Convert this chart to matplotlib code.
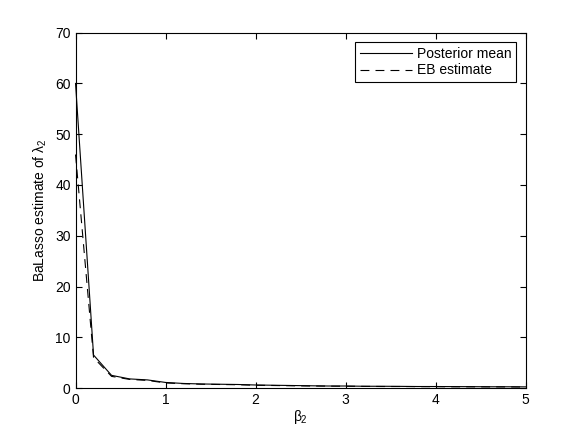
import matplotlib
matplotlib.use("Agg")
import matplotlib.pyplot as plt

plt.rcParams["font.family"] = ["Liberation Sans", "DejaVu Sans"]
plt.rcParams["mathtext.fontset"] = "custom"
plt.rcParams["mathtext.rm"] = "Liberation Sans"
plt.rcParams["mathtext.it"] = "Liberation Sans"

beta2 = [0.0, 0.2, 0.4, 0.6, 0.8, 1.0, 1.2, 1.4, 1.6, 1.8, 2.0, 2.2, 2.4,
         2.6, 2.8, 3.0, 3.2, 3.4, 3.6, 3.8, 4.0, 4.2, 4.4, 4.6, 4.8, 5.0]
posterior_mean = [60.0, 6.5, 2.5, 1.8, 1.6, 1.1, 0.9, 0.8, 0.75, 0.7, 0.6,
                  0.55, 0.5, 0.45, 0.4, 0.4, 0.35, 0.35, 0.33, 0.3, 0.3,
                  0.28, 0.27, 0.25, 0.25, 0.23]
eb_estimate = [46.0, 6.0, 2.3, 1.7, 1.5, 1.0, 0.85, 0.75, 0.7, 0.65, 0.55,
               0.5, 0.45, 0.4, 0.38, 0.35, 0.33, 0.3, 0.3, 0.28, 0.27,
               0.25, 0.24, 0.23, 0.22, 0.2]

fig = plt.figure(figsize=(5.81, 4.36), dpi=100)
ax = fig.add_axes([0.13, 0.11, 0.775, 0.815])

ax.plot(beta2, posterior_mean, "k-", linewidth=0.8, label="Posterior mean",
        clip_on=False)
ax.plot(beta2, eb_estimate, "k--", linewidth=0.8, dashes=(8, 5.5),
        label="EB estimate", clip_on=False)

ax.set_xlim(0, 5)
ax.set_ylim(0, 70)
ax.set_xticks([0, 1, 2, 3, 4, 5])
ax.set_yticks(range(0, 71, 10))
ax.tick_params(direction="in", top=True, right=True, labelsize=10, length=4)

ax.set_xlabel(r"$\beta_2$", fontsize=10, labelpad=1)
ax.set_ylabel(r"BaLasso estimate of $\lambda_2$", fontsize=10)

leg = ax.legend(loc="upper right", fontsize=10, fancybox=False, framealpha=1,
                edgecolor="black", handlelength=3.8, handletextpad=0.3,
                labelspacing=0.15, borderpad=0.35, borderaxespad=0.7)
leg.get_frame().set_linewidth(0.8)

fig.savefig("out.png", dpi=100)
